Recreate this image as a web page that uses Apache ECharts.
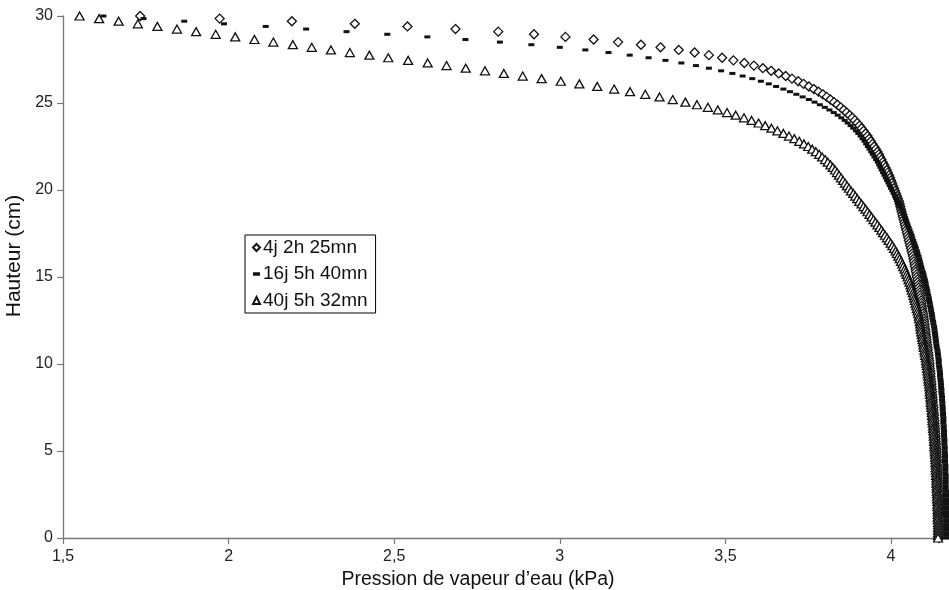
<!DOCTYPE html>
<html>
<head>
<meta charset="utf-8">
<script src="https://cdn.jsdelivr.net/npm/echarts@6/dist/echarts.min.js"></script>
<style>
html,body{margin:0;padding:0;background:#fff;}
#chart{width:949px;height:590px;}
</style>
</head>
<body>
<div id="chart"></div>
<script>
// Heights (cm), one per marker, from top to bottom
const heights = [
30,29.85,29.7,29.55,29.4,29.25,29.1,28.95,28.8,28.65,28.5,28.35,28.2,28.05,27.9,27.75,27.6,27.45,27.3,27.15,
27,26.85,26.7,26.55,26.4,26.25,26.1,25.95,25.8,25.65,25.5,25.35,25.2,25.05,24.9,24.75,24.6,24.45,24.3,24.15,
24,23.85,23.7,23.55,23.4,23.25,23.1,22.95,22.8,22.65,22.5,22.35,22.2,22.05,21.9,21.75,21.6,21.45,21.3,21.15,
21,20.85,20.7,20.55,20.4,20.25,20.1,19.95,19.8,19.65,19.5,19.35,19.2,19.05,18.9,18.75,18.6,18.45,18.3,18.15,
18,17.85,17.7,17.55,17.4,17.25,17.1,16.95,16.8,16.65,16.5,16.35,16.2,16.05,15.9,15.75,15.6,15.45,15.3,15.15,
15,14.85,14.7,14.55,14.4,14.25,14.1,13.95,13.8,13.65,13.5,13.35,13.2,13.05,12.9,12.75,12.6,12.45,12.3,12.15,
12,11.85,11.7,11.55,11.4,11.25,11.1,10.95,10.8,10.65,10.5,10.35,10.2,10.05,9.9,9.75,9.6,9.45,9.3,9.15,
9,8.85,8.7,8.55,8.4,8.25,8.1,7.95,7.8,7.65,7.5,7.35,7.2,7.05,6.9,6.75,6.6,6.45,6.3,6.15,
6,5.85,5.7,5.55,5.4,5.25,5.1,4.95,4.8,4.65,4.5,4.35,4.2,4.05,3.9,3.75,3.6,3.45,3.3,3.15,
3,2.85,2.7,2.55,2.4,2.25,2.1,1.95,1.8,1.65,1.5,1.35,1.2,1.05,0.9,0.75,0.6,0.45,0.3,0.15,
0
];

// Vapour pressure (kPa) — series "4j 2h 25mn"
const p4j = [
1.733,1.973,2.191,2.381,2.540,2.685,2.814,2.922,3.017,3.102,
3.176,3.245,3.304,3.359,3.407,3.450,3.490,3.524,3.557,3.586,
3.613,3.638,3.661,3.682,3.701,3.720,3.736,3.752,3.767,3.781,
3.794,3.806,3.817,3.828,3.838,3.848,3.857,3.866,3.875,3.883,
3.891,3.898,3.905,3.911,3.917,3.923,3.929,3.934,3.939,3.944,
3.949,3.954,3.959,3.963,3.967,3.971,3.975,3.979,3.983,3.987,
3.990,3.994,3.997,4.000,4.003,4.006,4.009,4.012,4.015,4.018,
4.021,4.024,4.026,4.028,4.030,4.032,4.034,4.036,4.038,4.040,
4.042,4.044,4.046,4.048,4.050,4.052,4.054,4.056,4.058,4.060,
4.062,4.064,4.066,4.068,4.069,4.071,4.072,4.074,4.075,4.077,
4.078,4.080,4.081,4.083,4.084,4.086,4.087,4.088,4.089,4.091,
4.092,4.093,4.094,4.095,4.097,4.098,4.099,4.100,4.101,4.102,
4.103,4.104,4.105,4.106,4.107,4.108,4.109,4.110,4.111,4.112,
4.113,4.114,4.115,4.116,4.116,4.117,4.118,4.119,4.119,4.120,
4.121,4.122,4.122,4.123,4.124,4.124,4.125,4.126,4.126,4.127,
4.128,4.128,4.129,4.130,4.130,4.131,4.131,4.132,4.133,4.133,
4.134,4.134,4.135,4.135,4.136,4.136,4.137,4.137,4.138,4.138,
4.139,4.139,4.139,4.140,4.140,4.140,4.141,4.141,4.141,4.142,
4.142,4.142,4.142,4.143,4.143,4.143,4.143,4.144,4.144,4.144,
4.144,4.144,4.145,4.145,4.145,4.145,4.145,4.145,4.145,4.145,
4.145
];

// Vapour pressure (kPa) — series "16j 5h 40mn"
const p16j = [
1.622,1.743,1.866,1.986,2.112,2.234,2.356,2.479,2.600,2.715,
2.819,2.914,3.000,3.077,3.147,3.211,3.268,3.319,3.367,3.411,
3.450,3.487,3.521,3.552,3.581,3.607,3.631,3.653,3.675,3.695,
3.714,3.733,3.752,3.769,3.785,3.800,3.814,3.827,3.839,3.850,
3.860,3.869,3.878,3.886,3.894,3.901,3.908,3.914,3.920,3.925,
3.930,3.935,3.940,3.945,3.950,3.955,3.960,3.964,3.968,3.972,
3.976,3.980,3.984,3.988,3.992,3.996,4.000,4.004,4.008,4.012,
4.016,4.020,4.024,4.027,4.031,4.034,4.037,4.041,4.044,4.047,
4.050,4.053,4.056,4.059,4.062,4.064,4.067,4.070,4.073,4.075,
4.078,4.080,4.083,4.085,4.087,4.089,4.091,4.093,4.096,4.098,
4.100,4.102,4.104,4.105,4.107,4.109,4.110,4.112,4.114,4.115,
4.117,4.118,4.120,4.121,4.123,4.124,4.125,4.127,4.128,4.130,
4.131,4.132,4.133,4.134,4.135,4.136,4.137,4.138,4.140,4.141,
4.142,4.143,4.144,4.144,4.145,4.146,4.147,4.148,4.148,4.149,
4.150,4.151,4.151,4.152,4.152,4.153,4.154,4.154,4.155,4.155,
4.156,4.156,4.157,4.157,4.158,4.158,4.158,4.159,4.159,4.160,
4.160,4.160,4.161,4.161,4.161,4.162,4.162,4.162,4.163,4.163,
4.163,4.163,4.164,4.164,4.164,4.164,4.165,4.165,4.165,4.165,
4.165,4.165,4.166,4.166,4.166,4.166,4.166,4.166,4.166,4.166,
4.166,4.166,4.167,4.167,4.167,4.167,4.167,4.167,4.167,4.167,
4.167
];

// Vapour pressure (kPa) — series "40j 5h 32mn"
const p40j = [
1.550,1.609,1.668,1.726,1.785,1.844,1.902,1.961,2.020,2.078,
2.135,2.194,2.251,2.309,2.366,2.425,2.482,2.542,2.601,2.658,
2.716,2.774,2.831,2.888,2.945,3.003,3.059,3.113,3.164,3.212,
3.258,3.301,3.341,3.379,3.414,3.447,3.477,3.505,3.531,3.556,
3.579,3.600,3.620,3.639,3.657,3.675,3.692,3.708,3.723,3.737,
3.750,3.762,3.773,3.783,3.792,3.801,3.809,3.817,3.824,3.831,
3.837,3.843,3.849,3.855,3.861,3.867,3.873,3.879,3.886,3.892,
3.898,3.904,3.911,3.917,3.923,3.929,3.935,3.941,3.947,3.953,
3.959,3.965,3.971,3.976,3.982,3.988,3.993,3.999,4.004,4.009,
4.014,4.018,4.022,4.026,4.030,4.034,4.037,4.041,4.044,4.047,
4.050,4.053,4.056,4.059,4.061,4.063,4.066,4.068,4.070,4.072,
4.074,4.076,4.078,4.080,4.082,4.084,4.085,4.087,4.088,4.089,
4.090,4.091,4.093,4.094,4.095,4.097,4.098,4.099,4.101,4.102,
4.103,4.105,4.106,4.107,4.108,4.109,4.110,4.111,4.112,4.113,
4.114,4.115,4.116,4.117,4.117,4.118,4.119,4.120,4.120,4.121,
4.122,4.123,4.123,4.124,4.125,4.125,4.126,4.127,4.127,4.128,
4.129,4.129,4.130,4.130,4.131,4.131,4.132,4.132,4.133,4.133,
4.134,4.134,4.135,4.135,4.135,4.136,4.136,4.137,4.137,4.137,
4.138,4.138,4.138,4.139,4.139,4.139,4.140,4.140,4.140,4.141,
4.141,4.141,4.141,4.141,4.142,4.142,4.142,4.142,4.142,4.142,
4.142
];

const seriesNames = ['4j 2h 25mn', '16j 5h 40mn', '40j 5h 32mn'];
const xTicks = { min: 1.5, max: 4.175, interval: 0.5 };
const yTicks = { min: 0, max: 30, interval: 5 };

function pairs(xs) {
  const n = Math.min(xs.length, heights.length);
  const out = [];
  for (let i = 0; i < n; i++) out.push([xs[i], heights[i]]);
  return out;
}

const FONT = '"Liberation Sans", Arial, Helvetica, sans-serif';
const chart = echarts.init(document.getElementById('chart'), null, { renderer: 'canvas' });

chart.setOption({
  backgroundColor: '#ffffff',
  animation: false,
  textStyle: { fontFamily: FONT },
  grid: { left: 63, right: 0, top: 16, bottom: 52, containLabel: false, outerBoundsMode: 'none' },
  legend: {
    orient: 'vertical',
    left: 245, top: 235,
    padding: [3, 8, 3, 7],
    itemGap: 7.5,
    itemWidth: 7, itemHeight: 7,
    borderColor: '#000', borderWidth: 1,
    backgroundColor: '#fff',
    textStyle: { fontSize: 19, color: '#111', fontFamily: FONT, padding: [0, 0, 0, -2] },
    data: [
      { name: seriesNames[0], icon: 'diamond' },
      { name: seriesNames[1], icon: 'path://M0,0L6,0L6,3L0,3Z' },
      { name: seriesNames[2], icon: 'triangle' }
    ]
  },
  xAxis: {
    type: 'value',
    min: xTicks.min, max: xTicks.max, interval: xTicks.interval,
    name: 'Pression de vapeur d\u2019eau (kPa)',
    nameLocation: 'middle', nameGap: 31,
    nameTextStyle: { fontSize: 19.5, color: '#111', fontFamily: FONT, padding: [0, 56, 0, 0] },
    axisLine: { lineStyle: { color: '#777', width: 1.3 } },
    axisTick: { show: true, inside: false, length: 6, lineStyle: { color: '#777', width: 1.2 } },
    axisLabel: { fontSize: 16, color: '#222', margin: 11, showMaxLabel: false,
      formatter: v => String(v).replace('.', ',') },
    splitLine: { show: false }
  },
  yAxis: {
    type: 'value',
    min: yTicks.min, max: yTicks.max, interval: yTicks.interval,
    name: 'Hauteur (cm)',
    nameLocation: 'middle', nameGap: 37,
    nameTextStyle: { fontSize: 21, color: '#111', fontFamily: FONT, padding: [0, 0, 0, 42] },
    axisLine: { show: true, lineStyle: { color: '#777', width: 1.3 } },
    axisTick: { show: true, inside: false, length: 6, lineStyle: { color: '#777', width: 1.2 } },
    axisLabel: { fontSize: 16, color: '#222', margin: 10 },
    splitLine: { show: false }
  },
  series: [
    {
      name: seriesNames[0], type: 'scatter', data: pairs(p4j),
      symbol: 'diamond', symbolSize: [9, 9],
      itemStyle: { color: '#fff', borderColor: '#111', borderWidth: 1.3, opacity: 1 }
    },
    {
      name: seriesNames[1], type: 'scatter', data: pairs(p16j),
      symbol: 'rect', symbolSize: [6, 3],
      itemStyle: { color: '#111', opacity: 1 }
    },
    {
      name: seriesNames[2], type: 'scatter', data: pairs(p40j),
      symbol: 'triangle', symbolSize: [9, 8],
      itemStyle: { color: '#fff', borderColor: '#111', borderWidth: 1.3, opacity: 1 }
    }
  ]
});
</script>
</body>
</html>
